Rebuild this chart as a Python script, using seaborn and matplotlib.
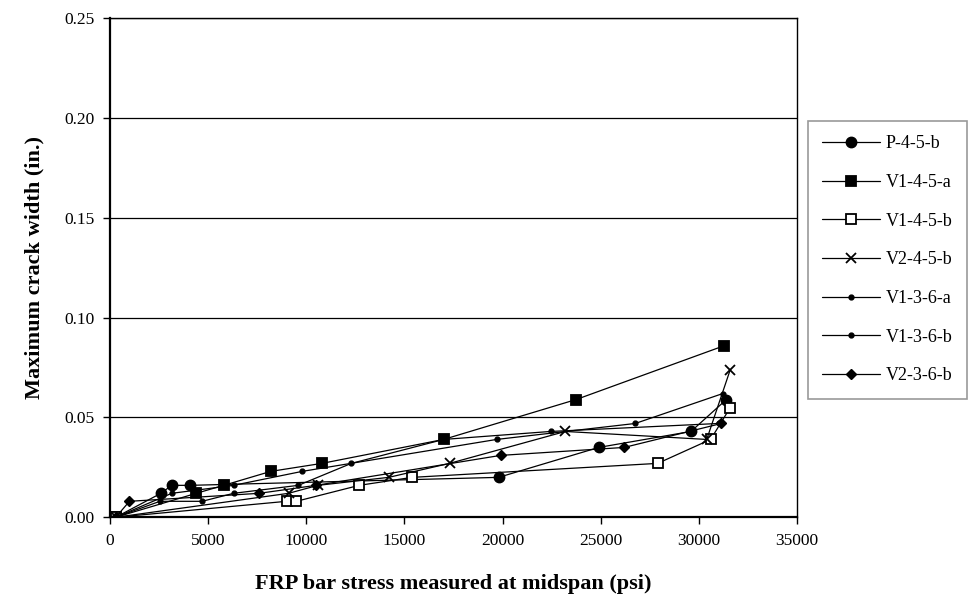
import matplotlib
matplotlib.use("Agg")
import matplotlib.pyplot as plt
import seaborn as sns
from matplotlib.ticker import FormatStrFormatter

# Data (stress in psi, crack width in in.)
p45b_x = [300, 2600, 3150, 4100, 19800, 24900, 29600, 31400]
p45b_y = [0.0, 0.012, 0.016, 0.016, 0.020, 0.035, 0.043, 0.059]

v1_45a_x = [300, 4400, 5800, 8200, 10800, 17000, 23750, 31300]
v1_45a_y = [0.0, 0.012, 0.016, 0.023, 0.027, 0.039, 0.059, 0.086]

v1_45b_x = [300, 9000, 9500, 12700, 15400, 27900, 30600, 31600]
v1_45b_y = [0.0, 0.008, 0.008, 0.016, 0.020, 0.027, 0.039, 0.055]

v2_45b_x = [300, 9100, 10600, 14200, 17300, 23200, 30400, 31600]
v2_45b_y = [0.0, 0.012, 0.016, 0.020, 0.027, 0.043, 0.039, 0.074]

v1_36a_x = [300, 3150, 6300, 9800, 19700, 26760, 31220]
v1_36a_y = [0.0, 0.012, 0.016, 0.023, 0.039, 0.047, 0.062]

v1_36b_x = [300, 2550, 4700, 6300, 9600, 12300, 17000, 22450, 31000]
v1_36b_y = [0.0, 0.008, 0.008, 0.012, 0.016, 0.027, 0.039, 0.043, 0.047]

v2_36b_x = [300, 1000, 7600, 10500, 19900, 26200, 31150]
v2_36b_y = [0.0, 0.008, 0.012, 0.016, 0.031, 0.035, 0.047]

labels = ["P-4-5-b", "V1-4-5-a", "V1-4-5-b", "V2-4-5-b", "V1-3-6-a", "V1-3-6-b", "V2-3-6-b"]
xs = [p45b_x, v1_45a_x, v1_45b_x, v2_45b_x, v1_36a_x, v1_36b_x, v2_36b_x]
ys = [p45b_y, v1_45a_y, v1_45b_y, v2_45b_y, v1_36a_y, v1_36b_y, v2_36b_y]

# marker styles: (marker, size, face colour)
styles = [("o", 7.5, "black"), ("s", 6.5, "black"), ("s", 6.5, "white"),
          ("x", 7, "black"), ("o", 3.5, "black"), ("o", 3.5, "black"), ("D", 5.5, "black")]

sns.set_style("white")
plt.rcParams["font.family"] = ["Liberation Serif", "DejaVu Serif"]
plt.rcParams["text.color"] = "black"
plt.rcParams["axes.labelcolor"] = "black"
plt.rcParams["xtick.color"] = "black"
plt.rcParams["ytick.color"] = "black"

fig = plt.figure(figsize=(9.72, 6.1), dpi=100)
ax = fig.add_axes([0.113, 0.152, 0.707, 0.818])

for x, y, lab, (m, ms, fc) in zip(xs, ys, labels, styles):
    sns.lineplot(x=x, y=y, ax=ax, sort=False, estimator=None, color="black",
                 linewidth=0.9, marker=m, markersize=ms, markerfacecolor=fc,
                 markeredgecolor="black", markeredgewidth=1.3 if m in ("x", "s") else 1.0,
                 label=lab, legend=False)

ax.set_xlim(0, 35000)
ax.set_ylim(0, 0.25)
ax.set_xticks(range(0, 35001, 5000))
ax.set_yticks([0.0, 0.05, 0.10, 0.15, 0.20, 0.25])
ax.yaxis.set_major_formatter(FormatStrFormatter("%.2f"))
ax.yaxis.grid(True, color="black", linewidth=0.9)
ax.set_axisbelow(True)
for s in ax.spines.values():
    s.set_visible(True)
    s.set_color("black")
    s.set_linewidth(1.0)
ax.spines["left"].set_linewidth(1.6)
ax.spines["bottom"].set_linewidth(1.6)
ax.tick_params(axis="both", direction="out", length=5, width=1, color="black",
               labelsize=12.5, pad=6, bottom=True, left=True)

ax.set_xlabel("FRP bar stress measured at midspan (psi)", fontsize=16, fontweight="bold", labelpad=18)
ax.set_ylabel("Maximum crack width (in.)", fontsize=16, fontweight="bold", labelpad=14)

handles, labs = ax.get_legend_handles_labels()
leg = fig.legend(handles, labs, loc="center left", bbox_to_anchor=(0.831, 0.574),
                 borderaxespad=0, frameon=True, fancybox=False, fontsize=13,
                 handlelength=3.2, labelspacing=1.2, handletextpad=0.3,
                 borderpad=0.8, edgecolor="#808080")
leg.get_frame().set_linewidth(1.2)

fig.savefig("out.png", dpi=100)
